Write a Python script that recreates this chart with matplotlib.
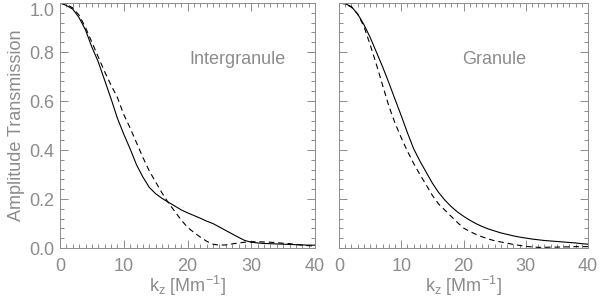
import numpy as np
import matplotlib.pyplot as plt
from matplotlib.ticker import MultipleLocator

plt.rcParams['font.family'] = ['Liberation Sans', 'DejaVu Sans']

# k_z sample points [Mm^-1]
kz = list(range(0, 41))

# Intergranule (solid / dashed)
inter_solid = [1.0, 0.99, 0.975, 0.94, 0.89, 0.82, 0.76, 0.685, 0.61, 0.53, 0.465,
               0.405, 0.34, 0.29, 0.248, 0.222, 0.203, 0.187, 0.172, 0.156, 0.144,
               0.133, 0.122, 0.11, 0.1, 0.086, 0.072, 0.058, 0.044, 0.031, 0.024,
               0.021, 0.019, 0.018, 0.017, 0.016, 0.015, 0.014, 0.013, 0.012, 0.012]
inter_dash = [1.0, 0.995, 0.98, 0.95, 0.9, 0.84, 0.78, 0.72, 0.665, 0.615, 0.545,
              0.49, 0.43, 0.37, 0.315, 0.27, 0.225, 0.185, 0.15, 0.115, 0.085,
              0.064, 0.045, 0.028, 0.016, 0.012, 0.013, 0.017, 0.021, 0.024, 0.026,
              0.026, 0.025, 0.024, 0.022, 0.02, 0.018, 0.015, 0.012, 0.01, 0.008]

# Granule (solid / dashed)
gran_solid = [1.0, 0.997, 0.985, 0.955, 0.912, 0.86, 0.80, 0.74, 0.675, 0.607, 0.54,
              0.47, 0.405, 0.355, 0.31, 0.265, 0.227, 0.196, 0.17, 0.148, 0.13,
              0.114, 0.1, 0.088, 0.078, 0.07, 0.062, 0.056, 0.05, 0.045, 0.041,
              0.037, 0.034, 0.031, 0.029, 0.027, 0.025, 0.023, 0.021, 0.018, 0.016]
gran_dash = [1.0, 0.996, 0.983, 0.955, 0.905, 0.83, 0.75, 0.665, 0.58, 0.51, 0.45,
             0.395, 0.345, 0.30, 0.258, 0.215, 0.18, 0.155, 0.13, 0.105, 0.082,
             0.068, 0.056, 0.046, 0.037, 0.03, 0.025, 0.02, 0.015, 0.011, 0.007,
             0.005, 0.003, 0.003, 0.004, 0.004, 0.005, 0.005, 0.006, 0.006, 0.006]

panels = [("Intergranule", inter_solid, inter_dash, 27.8),
          ("Granule", gran_solid, gran_dash, 24.9)]

gray = "#8c8c8c"
fs = 13

fig = plt.figure(figsize=(6, 3), dpi=100)
rects = [[0.100, 0.173, 0.425, 0.817], [0.565, 0.173, 0.415, 0.817]]

for i, (name, solid, dash, tx) in enumerate(panels):
    ax = fig.add_axes(rects[i])
    ax.plot(kz, solid, color="black", lw=0.8)
    ax.plot(kz, dash, color="black", lw=0.8, dashes=(5, 3.5))
    ax.set_xlim(0, 40)
    ax.set_ylim(0, 1.0)
    ax.xaxis.set_major_locator(MultipleLocator(10))
    ax.xaxis.set_minor_locator(MultipleLocator(1))
    ax.yaxis.set_major_locator(MultipleLocator(0.2))
    ax.yaxis.set_minor_locator(MultipleLocator(0.04))
    ax.tick_params(which="both", direction="in", top=True, right=True, color=gray,
                   labelcolor=gray, labelsize=fs, width=0.7)
    ax.tick_params(which="major", length=6)
    ax.tick_params(which="minor", length=3)
    ax.tick_params(axis="x", pad=7)
    ax.tick_params(axis="y", pad=4)
    for s in ax.spines.values():
        s.set_color(gray)
        s.set_linewidth(0.7)
    if i == 0:
        ax.yaxis.set_major_formatter(plt.FuncFormatter(lambda v, p: f"{v:.1f}"))
        ax.set_ylabel("Amplitude Transmission", color=gray, fontsize=fs, labelpad=3)
    else:
        ax.set_yticklabels([])
    ax.set_xlabel(r"k$_\mathregular{z}$ [Mm$^\mathregular{-1}$]", color=gray, fontsize=fs,
                  labelpad=-1)
    ax.text(tx, 0.77, name, color=gray, fontsize=fs, ha="center", va="center")

# keep the top "1.0" label inside the figure, as in the original
fig.canvas.draw()
left = fig.axes[0]
for t in left.get_yticklabels():
    if t.get_text() == "1.0":
        t.set_verticalalignment("top")

fig.savefig("out.png", dpi=100)
